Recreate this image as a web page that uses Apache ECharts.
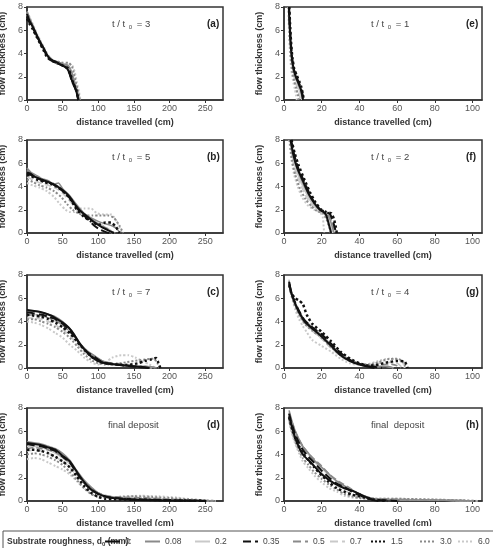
<!DOCTYPE html>
<html>
<head>
<meta charset="utf-8">
<title>flow thickness</title>
<script src="https://cdn.jsdelivr.net/npm/echarts@6/dist/echarts.min.js"></script>
<style>
html, body { margin: 0; padding: 0; background: #fff; }
#wrap { position: relative; width: 493px; height: 548px; overflow: hidden; }
.panel { position: absolute; }
</style>
</head>
<body>
<div id="wrap"></div>
<script>
// substrate roughness d0 (mm), one series per value
var roughness = ['0', '0.08', '0.2', '0.35', '0.5', '0.7', '1.5', '3.0', '6.0'];

// (a) t/t0 = 3
var panelA = [
	[[0,7.4],[3,6.9],[8,6.3],[12,5.8],[18,5.0],[23,4.5],[28,3.9],[33,3.5],[40,3.3],[48,3.0],[55,2.8],[60,2.3],[63,1.7],[66,1.3],[69,0.8],[71,0.3],[72,0]],
	[[0,7.6],[4,7.0],[9,6.3],[14,5.6],[19,5.0],[24,4.4],[29,3.8],[35,3.4],[42,3.3],[50,3.1],[57,3.0],[62,2.5],[65,1.9],[68,1.3],[71,0.6],[73,0]],
	[[0,7.3],[4,6.8],[9,6.2],[14,5.5],[19,4.9],[24,4.3],[30,3.7],[36,3.3],[43,3.2],[51,3.1],[58,2.9],[63,2.3],[66,1.6],[70,0.9],[73,0.3],[74,0]],
	[[0,7.2],[3,6.7],[8,6.2],[13,5.6],[18,5.0],[23,4.4],[28,3.8],[34,3.4],[41,3.2],[49,3.0],[56,2.7],[60,2.2],[63,1.6],[67,1.1],[70,0.5],[72,0]],
	[[0,7.5],[3,7.0],[8,6.4],[13,5.7],[18,5.1],[23,4.5],[29,3.9],[35,3.5],[42,3.3],[50,3.1],[57,2.9],[61,2.4],[64,1.8],[67,1.2],[70,0.6],[72,0]],
	[[0,7.3],[4,6.8],[9,6.1],[14,5.4],[19,4.8],[24,4.2],[30,3.6],[36,3.3],[44,3.2],[52,3.1],[59,2.9],[63,2.4],[66,1.8],[69,1.1],[72,0.4],[73,0]],
	[[0,7.0],[3,6.6],[8,6.1],[13,5.5],[18,4.9],[23,4.3],[28,3.7],[34,3.4],[41,3.2],[49,3.0],[58,2.7],[62,2.0],[65,1.4],[69,0.9],[71,0.4],[72,0]],
	[[0,7.5],[4,6.9],[9,6.2],[14,5.5],[19,4.9],[24,4.3],[30,3.7],[36,3.4],[43,3.3],[50,3.2],[58,3.2],[63,2.9],[66,2.2],[69,1.4],[72,0.7],[74,0]],
	[[0,7.6],[4,7.1],[9,6.4],[14,5.7],[19,5.1],[24,4.5],[30,3.8],[36,3.4],[44,3.3],[55,3.1],[63,3.0],[67,2.4],[70,1.5],[73,0.7],[75,0]]
];

// (b) t/t0 = 5
var panelB = [
	[[0,5.1],[5,5.0],[12,4.8],[20,4.6],[30,4.4],[40,4.1],[50,3.7],[60,3.1],[68,2.4],[75,1.9],[85,1.4],[95,0.9],[105,0.5],[115,0.2],[122,0]],
	[[0,5.6],[6,5.2],[12,5.0],[20,4.7],[30,4.5],[38,4.2],[44,4.3],[50,3.8],[60,3.2],[70,2.4],[80,1.7],[90,1.3],[100,1.0],[110,0.8],[120,0.6],[127,0.3],[130,0]],
	[[0,5.3],[8,5.0],[18,4.6],[28,4.4],[40,4.1],[50,3.6],[60,3.0],[70,2.2],[80,1.6],[92,1.1],[105,0.6],[115,0.2],[120,0]],
	[[0,5.2],[5,5.1],[12,4.8],[22,4.5],[32,4.3],[42,4.0],[52,3.5],[60,3.0],[68,2.3],[75,1.8],[85,1.2],[95,0.6],[102,0.3],[110,0.1],[115,0]],
	[[0,5.4],[8,5.0],[16,4.7],[26,4.5],[36,4.3],[46,3.9],[56,3.4],[64,2.8],[72,2.1],[82,1.5],[92,1.1],[102,0.7],[112,0.4],[120,0.1],[124,0]],
	[[0,4.8],[8,4.6],[18,4.3],[30,4.1],[42,3.8],[52,3.3],[62,2.6],[72,1.9],[84,1.4],[96,1.0],[108,0.6],[118,0.2],[123,0]],
	[[0,5.0],[6,4.9],[14,4.6],[24,4.4],[34,4.2],[44,3.9],[54,3.4],[62,2.8],[70,2.0],[80,1.4],[90,1.0],[100,0.7],[110,0.9],[118,0.9],[125,0.5],[130,0]],
	[[0,4.6],[8,4.4],[18,4.1],[28,3.9],[38,3.6],[48,3.1],[56,2.5],[64,2.0],[72,1.7],[82,1.5],[92,1.5],[102,1.5],[114,1.5],[122,1.3],[130,0.6],[135,0]],
	[[0,4.3],[8,4.1],[18,3.9],[28,3.6],[38,3.1],[46,2.5],[54,2.0],[60,1.8],[66,1.8],[72,2.1],[80,2.1],[90,2.1],[98,1.7],[108,1.6],[118,1.6],[126,1.0],[133,0]]
];

// (c) t/t0 = 7
var panelC = [
	[[0,5.0],[10,4.9],[20,4.8],[30,4.6],[40,4.3],[50,3.9],[58,3.5],[66,2.9],[74,2.1],[82,1.5],[90,1.0],[100,0.6],[110,0.4],[125,0.3],[140,0.2],[155,0.1],[165,0.05],[172,0]],
	[[0,4.9],[10,4.9],[20,4.8],[30,4.6],[40,4.4],[50,4.0],[60,3.4],[68,2.7],[76,2.0],[86,1.4],[96,1.0],[106,0.6],[118,0.4],[130,0.3],[145,0.2],[160,0.15],[175,0.1],[182,0]],
	[[0,4.6],[10,4.6],[20,4.5],[30,4.3],[40,4.0],[50,3.7],[60,3.2],[70,2.4],[80,1.6],[90,1.0],[100,0.6],[112,0.4],[125,0.3],[140,0.2],[160,0.1],[175,0]],
	[[0,4.8],[10,4.7],[20,4.6],[30,4.4],[40,4.2],[50,3.8],[60,3.2],[68,2.6],[76,1.9],[86,1.3],[96,0.9],[106,0.5],[118,0.35],[130,0.25],[145,0.15],[160,0.1],[170,0]],
	[[0,4.5],[10,4.6],[20,4.5],[30,4.3],[40,4.1],[50,3.7],[60,3.1],[70,2.4],[80,1.7],[90,1.2],[100,0.8],[110,0.5],[125,0.4],[140,0.3],[155,0.2],[170,0.1],[180,0]],
	[[0,4.3],[10,4.3],[20,4.2],[30,4.0],[40,3.7],[50,3.3],[60,2.8],[70,2.1],[80,1.4],[90,0.9],[100,0.6],[110,0.4],[125,0.3],[140,0.25],[160,0.15],[178,0]],
	[[0,4.6],[10,4.5],[20,4.4],[30,4.2],[40,3.9],[50,3.5],[60,3.0],[70,2.3],[80,1.6],[90,1.0],[100,0.6],[110,0.4],[125,0.3],[140,0.25],[155,0.4],[165,0.6],[175,0.75],[181,0.85],[184,0.5],[187,0]],
	[[0,4.2],[10,4.2],[20,4.0],[30,3.8],[40,3.5],[50,3.1],[60,2.6],[70,1.9],[80,1.2],[90,0.7],[100,0.4],[110,0.3],[125,0.35],[140,0.5],[155,0.65],[168,0.75],[178,0.8],[183,0.4],[186,0]],
	[[0,4.0],[10,3.9],[20,3.7],[30,3.4],[40,3.0],[50,2.6],[60,2.0],[70,1.5],[80,0.9],[90,0.5],[100,0.3],[110,0.5],[120,0.9],[132,1.1],[142,1.1],[152,0.9],[162,0.6],[172,0.3],[180,0]]
];

// (d) final deposit
var panelD = [
	[[0,5.0],[10,4.9],[20,4.8],[30,4.6],[40,4.4],[50,3.9],[60,3.4],[70,2.5],[78,1.8],[86,1.2],[94,0.8],[104,0.5],[115,0.3],[130,0.2],[150,0.1],[175,0.06],[200,0.04],[230,0.02],[250,0]],
	[[0,5.1],[10,5.0],[20,4.9],[30,4.7],[40,4.5],[50,4.1],[60,3.5],[70,2.6],[80,1.8],[90,1.2],[100,0.7],[112,0.4],[125,0.3],[145,0.2],[170,0.15],[200,0.1],[230,0.05],[260,0]],
	[[0,4.7],[10,4.7],[20,4.6],[30,4.4],[40,4.1],[50,3.7],[60,3.2],[70,2.4],[80,1.6],[90,1.0],[100,0.6],[115,0.35],[130,0.25],[150,0.2],[175,0.15],[200,0.1],[230,0.05],[255,0]],
	[[0,4.9],[10,4.8],[20,4.7],[30,4.5],[40,4.3],[50,3.8],[60,3.3],[70,2.4],[80,1.6],[90,1.0],[100,0.6],[110,0.4],[125,0.25],[145,0.15],[170,0.1],[200,0.06],[230,0.03],[250,0]],
	[[0,4.5],[10,4.6],[20,4.5],[30,4.4],[40,4.2],[50,3.8],[60,3.3],[70,2.5],[80,1.7],[90,1.1],[100,0.7],[112,0.45],[125,0.35],[145,0.3],[170,0.25],[200,0.15],[230,0.08],[260,0]],
	[[0,4.3],[10,4.4],[20,4.3],[30,4.1],[40,3.8],[50,3.4],[60,2.9],[70,2.2],[80,1.5],[90,0.9],[100,0.6],[112,0.4],[130,0.35],[150,0.3],[175,0.25],[200,0.15],[230,0.08],[262,0]],
	[[0,4.4],[10,4.4],[20,4.3],[30,4.1],[40,3.8],[50,3.4],[60,2.9],[70,2.1],[80,1.3],[90,0.7],[100,0.35],[110,0.2],[125,0.15],[145,0.12],[170,0.1],[200,0.06],[230,0.03],[255,0]],
	[[0,4.0],[10,4.1],[20,4.0],[30,3.8],[40,3.5],[50,3.1],[60,2.5],[70,1.8],[80,1.1],[90,0.6],[100,0.35],[112,0.3],[130,0.35],[150,0.4],[175,0.35],[200,0.25],[225,0.15],[250,0.05],[265,0]],
	[[0,3.6],[10,3.7],[20,3.6],[30,3.3],[40,3.0],[50,2.7],[60,2.3],[70,1.7],[80,1.1],[90,0.6],[100,0.4],[115,0.3],[135,0.4],[160,0.45],[185,0.4],[210,0.3],[230,0.15],[255,0.03],[265,0]]
];

// (e) t/t0 = 1
var panelE = [
	[[2.6,8],[3.0,6.5],[3.5,5.0],[4.2,3.6],[5.2,2.6],[6.5,1.9],[7.8,1.4],[8.8,1.0],[9.6,0.5],[10.1,0]],
	[[2.5,8],[2.9,6.6],[3.4,5.1],[4.1,3.7],[5.0,2.7],[6.2,2.0],[7.5,1.5],[8.6,1.0],[9.4,0.5],[9.9,0]],
	[[2.4,8],[2.8,6.5],[3.3,5.0],[4.0,3.6],[4.9,2.6],[6.0,1.9],[7.2,1.3],[8.2,0.8],[9.0,0.4],[9.4,0]],
	[[2.7,8],[3.1,6.5],[3.6,5.0],[4.3,3.6],[5.3,2.6],[6.6,2.0],[7.9,1.5],[9.0,1.0],[9.8,0.5],[10.3,0]],
	[[2.6,8],[3.0,6.4],[3.5,4.9],[4.2,3.5],[5.1,2.5],[6.4,1.8],[7.7,1.3],[8.7,0.9],[9.5,0.4],[10,0]],
	[[2.4,8],[2.8,6.4],[3.3,4.8],[4.0,3.4],[4.8,2.4],[5.8,1.7],[6.9,1.1],[7.8,0.6],[8.4,0.2],[8.6,0]],
	[[2.8,8],[3.2,6.6],[3.7,5.1],[4.4,3.7],[5.4,2.7],[6.8,2.1],[8.1,1.6],[9.2,1.1],[10.0,0.5],[10.5,0]],
	[[2.5,8],[2.8,6.3],[3.2,4.7],[3.8,3.3],[4.6,2.3],[5.5,1.6],[6.5,1.0],[7.3,0.5],[7.8,0]],
	[[2.3,8],[2.6,6.2],[3.0,4.6],[3.5,3.2],[4.2,2.2],[5.0,1.5],[5.8,0.9],[6.4,0.4],[6.8,0]]
];

// (f) t/t0 = 2
var panelF = [
	[[3.5,8],[5,6.7],[7,5.6],[10,4.5],[13,3.4],[16,2.6],[19,2.0],[21,1.8],[22.5,1.5],[23.5,0.9],[24.5,0.3],[25,0]],
	[[3.4,8],[5,6.6],[7,5.5],[10,4.3],[13,3.3],[16,2.5],[19,2.0],[22,1.7],[24,1.3],[25.5,0.6],[26.5,0]],
	[[3.3,8],[4.8,6.4],[6.8,5.3],[9.5,4.2],[12.5,3.2],[15.5,2.4],[18.5,1.9],[21.5,1.6],[23.5,1.1],[25,0.4],[25.8,0]],
	[[3.8,8],[5.3,6.8],[7.5,5.6],[10.5,4.5],[13.5,3.4],[16.5,2.5],[19.5,2.0],[22.5,1.8],[24.5,1.6],[26,1.0],[27,0.4],[27.6,0]],
	[[3.6,8],[5.2,6.7],[7.3,5.5],[10.2,4.4],[13.2,3.3],[16.2,2.5],[19.2,2.0],[22,1.7],[24.3,1.4],[25.8,0.8],[27,0]],
	[[3.2,8],[4.6,6.3],[6.5,5.1],[9.2,4.0],[12.2,3.0],[15.2,2.3],[18.2,1.9],[21,1.6],[23,1.2],[24.5,0.5],[25.2,0]],
	[[4.0,8],[5.6,6.9],[7.8,5.8],[10.8,4.6],[13.8,3.5],[16.8,2.6],[19.8,2.0],[22.5,1.8],[25,1.7],[26.5,1.2],[27.5,0.5],[28,0]],
	[[3.0,8],[4.3,6.2],[6.0,5.0],[8.5,3.8],[11.5,2.9],[14.5,2.3],[17.5,1.9],[20.5,1.7],[22.5,1.2],[24,0.5],[24.8,0]],
	[[2.8,8],[3.9,6.3],[5.4,5.0],[7.3,4.0],[9.5,3.1],[12.5,2.4],[16,2.0],[19,1.8],[20.5,1.4],[21,0.6],[21.3,0]]
];

// (g) t/t0 = 4
var panelG = [
	[[2.7,7.4],[4,6.4],[6,5.5],[8,4.8],[11,4.0],[15,3.4],[20,2.7],[25,1.9],[30,1.1],[35,0.6],[40,0.3],[45,0.1],[48,0]],
	[[2.7,7.5],[4,6.5],[6,5.6],[8,4.9],[11,4.1],[15,3.5],[20,2.8],[25,2.0],[30,1.2],[35,0.65],[40,0.35],[45,0.15],[50,0.1],[55,0.15],[58,0]],
	[[2.6,7.3],[4,6.3],[6,5.4],[8,4.7],[11,3.9],[15,3.3],[20,2.6],[25,1.8],[30,1.1],[35,0.6],[40,0.3],[46,0.15],[52,0.2],[56,0.1],[58,0]],
	[[2.8,7.2],[4,6.4],[6,5.6],[8,4.9],[11,4.1],[15,3.5],[20,2.9],[25,2.1],[30,1.3],[35,0.7],[40,0.35],[45,0.15],[50,0.05],[52,0]],
	[[2.7,7.3],[4,6.3],[6,5.4],[8,4.7],[11,3.9],[15,3.3],[20,2.7],[25,1.9],[30,1.2],[35,0.7],[40,0.4],[45,0.2],[50,0.25],[56,0.35],[60,0.2],[62,0]],
	[[2.6,7.6],[4,6.4],[6,5.3],[8,4.6],[11,3.8],[15,3.2],[20,2.5],[25,1.7],[30,1.0],[35,0.55],[40,0.3],[45,0.25],[50,0.4],[55,0.5],[60,0.4],[63,0]],
	[[2.8,7.1],[4,6.4],[6,6.0],[8,5.8],[10,5.5],[12,4.6],[15,3.8],[20,3.1],[25,2.3],[30,1.4],[35,0.8],[40,0.4],[45,0.2],[50,0.3],[55,0.5],[60,0.6],[64,0.55],[65.5,0]],
	[[2.7,7.2],[4,6.2],[6,5.3],[8,4.6],[11,3.8],[15,3.2],[20,2.6],[25,1.8],[30,1.1],[35,0.6],[40,0.35],[45,0.3],[50,0.5],[55,0.75],[60,0.8],[63,0.6],[64.5,0]],
	[[2.6,7.5],[4,6.2],[6,5.0],[8,4.2],[10,3.6],[12,3.1],[15,2.4],[20,1.9],[25,1.4],[30,0.8],[35,0.4],[40,0.25],[45,0.35],[50,0.6],[55,0.8],[60,0.75],[63,0.5],[64,0]]
];

// (h) final deposit
var panelH = [
	[[2.7,7.3],[4,6.5],[6,5.4],[8,4.6],[10,4.0],[13,3.5],[16,3.0],[20,2.3],[24,1.8],[28,1.4],[32,1.1],[36,0.9],[40,0.6],[44,0.3],[47,0.1],[50,0]],
	[[2.7,7.8],[4,7.0],[6,6.0],[8,5.3],[10,4.7],[13,4.1],[16,3.5],[20,2.9],[24,2.3],[28,1.7],[32,1.3],[36,0.9],[40,0.6],[44,0.35],[48,0.2],[55,0.15],[65,0.1],[80,0.08],[95,0.04],[100,0]],
	[[2.7,7.6],[4,6.8],[6,5.9],[8,5.2],[10,4.6],[13,4.0],[16,3.4],[20,2.8],[24,2.2],[28,1.7],[32,1.3],[36,0.9],[40,0.55],[44,0.3],[48,0.2],[56,0.15],[70,0.1],[85,0.06],[98,0]],
	[[2.7,7.5],[4,6.7],[6,5.7],[8,5.0],[10,4.4],[13,3.8],[16,3.3],[20,2.6],[24,2.0],[28,1.5],[32,1.2],[36,0.8],[40,0.5],[44,0.25],[48,0.1],[55,0.05],[60,0]],
	[[2.7,7.6],[4,6.9],[6,6.0],[8,5.3],[10,4.7],[13,4.1],[16,3.6],[20,3.0],[24,2.3],[28,1.8],[32,1.4],[36,1.0],[40,0.6],[44,0.35],[48,0.2],[56,0.15],[68,0.12],[82,0.08],[96,0.03],[100,0]],
	[[2.7,7.4],[4,6.5],[6,5.5],[8,4.8],[10,4.2],[13,3.6],[16,3.0],[20,2.4],[24,1.8],[28,1.3],[32,0.9],[36,0.6],[40,0.35],[44,0.2],[50,0.15],[60,0.12],[75,0.1],[90,0.05],[100,0]],
	[[2.7,7.2],[4,6.4],[6,5.4],[8,4.7],[10,4.1],[13,3.5],[16,2.9],[20,2.2],[24,1.6],[28,1.1],[32,0.8],[36,0.55],[40,0.4],[44,0.25],[48,0.1],[52,0.05],[55,0]],
	[[2.7,7.0],[4,6.1],[6,5.1],[8,4.3],[10,3.7],[13,3.1],[16,2.5],[20,1.9],[24,1.4],[28,1.0],[32,0.6],[36,0.4],[40,0.25],[46,0.2],[55,0.2],[65,0.18],[80,0.12],[95,0.05],[102,0]],
	[[2.7,6.8],[4,5.9],[6,4.9],[8,4.1],[10,3.4],[13,2.8],[16,2.2],[20,1.6],[24,1.1],[28,0.8],[32,0.45],[36,0.3],[40,0.25],[48,0.2],[58,0.2],[70,0.15],[85,0.1],[98,0.04],[103,0]]
];

var panels = [panelA, panelB, panelC, panelD, panelE, panelF, panelG, panelH];
var panelLetters = ['(a)', '(b)', '(c)', '(d)', '(e)', '(f)', '(g)', '(h)'];
var panelTimes = ['3', '5', '7', '', '1', '2', '4', ''];
var finalLabels = ['final deposit', 'final  deposit'];

// line styles: black / grey / light grey ; solid / dashed / dotted
var lineColors = ['#111', '#8a8a8a', '#c9c9c9', '#111', '#8a8a8a', '#c9c9c9', '#111', '#8a8a8a', '#c9c9c9'];
var lineTypes = ['solid', 'solid', 'solid', 'dashed', 'dashed', 'dashed', 'dotted', 'dotted', 'dotted'];
var lineWidths = [2, 1.6, 1.6, 2, 1.6, 1.6, 2.5, 2, 2];
var legendLefts = [104, 144, 194, 242, 292, 329, 370, 419, 457];

var FONT = '"Liberation Sans", Arial, sans-serif';
var gridTops = [7, 140, 275, 408];
var wrap = document.getElementById('wrap');

function makeBox(left, top, width, height) {
	var d = document.createElement('div');
	d.className = 'panel';
	d.style.left = left + 'px';
	d.style.top = top + 'px';
	d.style.width = width + 'px';
	d.style.height = height + 'px';
	wrap.appendChild(d);
	return d;
}

function makeSeries(data) {
	var list = [];
	for (var i = 0; i < roughness.length; i++) {
		list.push({
			name: roughness[i], type: 'line',
			data: data ? data[i] : [], symbol: 'none', smooth: 0.2,
			lineStyle: { color: lineColors[i], width: lineWidths[i], type: lineTypes[i] },
			itemStyle: { color: lineColors[i] },
			z: 10 - (i % 3)
		});
	}
	return list;
}

// one chart per panel, like the figure's separate plots
function drawPanel(p) {
	var right = p >= 4;
	var boxLeft = right ? 246 : 0;
	var boxTop = gridTops[p % 4] - 7;
	var box = makeBox(boxLeft, boxTop, right ? 247 : 246, p % 4 === 3 ? 125 : 133);
	var chart = echarts.init(box);
	var timeText = panelTimes[p] ? '{n|t / t }{s|0}{n| = ' + panelTimes[p] + '}' : '{n|' + finalLabels[right ? 1 : 0] + '}';
	var xAxis = {
		type: 'value', min: 0, max: right ? 105 : 275,
		name: 'distance travelled (cm)', nameLocation: 'middle', nameGap: 14,
		nameTextStyle: { fontFamily: FONT, fontSize: 9, fontWeight: 'bold', color: '#333' },
		axisLine: { show: true, lineStyle: { color: '#333', width: 1.5 } },
		axisTick: { show: true, length: 3, lineStyle: { color: '#333' } },
		axisLabel: { fontFamily: FONT, fontSize: 9, color: '#555', margin: 4, showMaxLabel: false },
		splitLine: { show: false }
	};
	if (!right) xAxis.interval = 50;
	var grid = {
		left: right ? 38 : 27, top: 7, width: right ? 198 : 196, height: 93,
		show: true, borderColor: '#333', borderWidth: 1.5
	};
	var option = {
		backgroundColor: '#fff',
		animation: false,
		grid: grid,
		xAxis: xAxis,
		yAxis: {
			type: 'value', min: 0, max: 8, interval: 2,
			name: 'flow thickness (cm)', nameLocation: 'middle', nameGap: 13,
			nameTextStyle: { fontFamily: FONT, fontSize: 9, fontWeight: 'bold', color: '#333' },
			axisLine: { show: true, lineStyle: { color: '#333', width: 1.5 } },
			axisTick: { show: true, length: 3, lineStyle: { color: '#333' } },
			axisLabel: { fontFamily: FONT, fontSize: 9, color: '#555', margin: 4 },
			splitLine: { show: false }
		},
		title: [
			{
				text: timeText,
				left: right ? 120 : (panelTimes[p] ? 107 : 103),
				top: 13,
				textStyle: {
					fontWeight: 'normal',
					rich: {
						n: { fontFamily: FONT, fontSize: 9.5, fontWeight: 'normal', color: '#444', lineHeight: 12 },
						s: { fontFamily: FONT, fontSize: 6, fontWeight: 'normal', color: '#444', lineHeight: 12, padding: [6, 2, 0, 1] }
					}
				}
			},
			{
				text: panelLetters[p],
				left: right ? 215 : 202,
				top: 14,
				textStyle: { fontFamily: FONT, fontSize: 10, fontWeight: 'bold', color: '#222' }
			}
		],
		series: makeSeries(panels[p])
	};
	// keep the grid where it is put, no room made for labels
	grid.outerBoundsMode = 'none';
	try {
		chart.setOption(option);
	} catch (e) {
		try {
			chart.dispose();
			chart = echarts.init(box);
			delete grid.outerBoundsMode;
			chart.setOption(option);
		} catch (e2) {}
	}
}

function drawLegend() {
	var box = makeBox(0, 525, 493, 23);
	var chart = echarts.init(box);
	var legends = [];
	for (var k = 0; k < roughness.length; k++) {
		legends.push({
			data: [roughness[k]], left: legendLefts[k], top: 12,
			itemWidth: 15, itemHeight: 10, padding: 0,
			selectedMode: false,
			itemStyle: { opacity: 0 },
			textStyle: { fontFamily: FONT, fontSize: 8.5, color: '#444' }
		});
	}
	var graphic = [
		{
			type: 'rect', silent: true,
			shape: { x: 3, y: 6, width: 500, height: 30 },
			style: { fill: 'none', stroke: '#555', lineWidth: 1 }
		},
		{
			type: 'text', left: 7, top: 11,
			style: {
				text: '{b|Substrate roughness, d}{s|0}{b| (mm):}',
				rich: {
					b: { fontFamily: FONT, fontSize: 8.5, fontWeight: 'bold', fill: '#333', lineHeight: 12 },
					s: { fontFamily: FONT, fontSize: 6, fontWeight: 'bold', fill: '#333', lineHeight: 12, padding: [5, 0, 0, 0] }
				}
			}
		}
	];
	try {
		chart.setOption({
			animation: false,
			grid: { left: 0, top: 0, width: 10, height: 10, show: false },
			xAxis: { type: 'value', show: false },
			yAxis: { type: 'value', show: false },
			legend: legends, graphic: graphic, series: makeSeries(null)
		});
	} catch (e) {
		try {
			chart.dispose();
			chart = echarts.init(box);
			chart.setOption({ animation: false, graphic: graphic });
		} catch (e2) {}
	}
}

for (var p = 0; p < 8; p++) {
	drawPanel(p);
}
drawLegend();
</script>
</body>
</html>
